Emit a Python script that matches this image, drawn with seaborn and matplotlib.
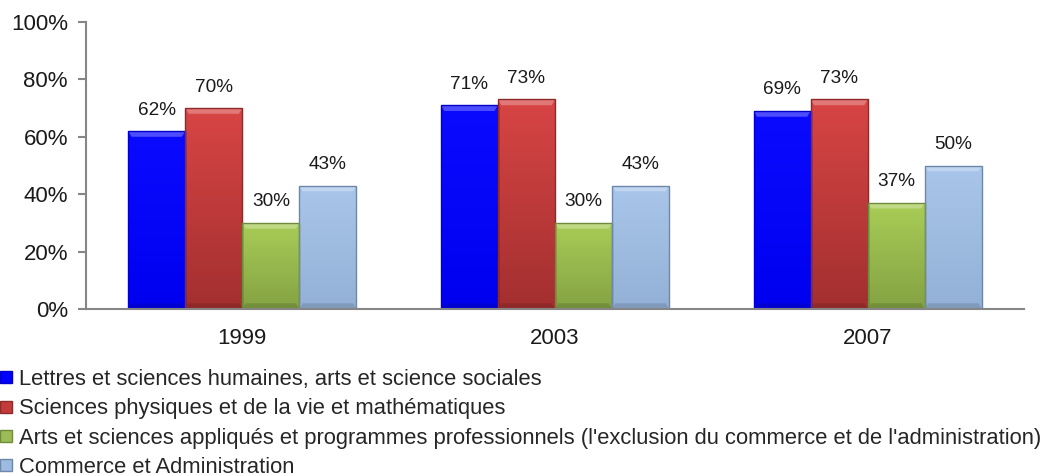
import numpy as np
import pandas as pd
import matplotlib
matplotlib.use("Agg")
import matplotlib.pyplot as plt
from matplotlib.lines import Line2D
from matplotlib.patches import Polygon
from matplotlib.colors import LinearSegmentedColormap
import seaborn as sns

years = ["1999", "2003", "2007"]
series = [
    "Lettres et sciences humaines, arts et science sociales",
    "Sciences physiques et de la vie et mathématiques",
    "Arts et sciences appliqués et programmes professionnels (l'exclusion du commerce et de l'administration)",
    "Commerce et Administration",
]
lettres = [62, 71, 69]
sciences = [70, 73, 73]
arts = [30, 30, 37]
commerce = [43, 43, 50]
colors = ["#0000FF", "#C33A3A", "#9BBB59", "#9DBBE0"]
tops = ["#0A0AFF", "#D84545", "#A9CD57", "#A9C6EA"]
bottoms = ["#0000F0", "#A32F2F", "#84A243", "#93B0D6"]
edges = ["#0000C8", "#8E2A2A", "#6F8A3A", "#6E86A8"]

rows = []
for s, vals in zip(series, [lettres, sciences, arts, commerce]):
    for y, v in zip(years, vals):
        rows.append({"year": y, "series": s, "value": v})
df = pd.DataFrame(rows)

sns.set_style("white")
plt.rcParams["font.family"] = ["Liberation Sans", "DejaVu Sans"]

fig = plt.figure(figsize=(10.51, 4.76), dpi=100)
ax = fig.add_axes([86/1051, 1-309/476, (1024-86)/1051, (309-22)/476])

sns.barplot(data=df, x="year", y="value", hue="series", order=years,
            hue_order=series, palette=colors, width=0.73, saturation=1,
            legend=False, ax=ax, errorbar=None)

ax.set_ylim(0, 100)
ax.set_xlim(-0.5, 2.5)

for i, cont in enumerate(ax.containers):
    cmap = LinearSegmentedColormap.from_list(f"g{i}", [bottoms[i], tops[i]])
    for p in cont.patches:
        x0, y0 = p.get_x(), p.get_y()
        w, h = p.get_width(), p.get_height()
        z = p.get_zorder()
        grad = np.linspace(0, 1, 256).reshape(-1, 1)
        im = ax.imshow(grad, cmap=cmap, origin="lower", aspect="auto",
                       extent=[x0, x0 + w, y0, y0 + h], zorder=z + 0.1,
                       interpolation="bilinear")
        im.set_clip_path(p)
        # bevel: light top, dark bottom
        bx, by = w * 0.06, 2.0
        ax.add_patch(Polygon([(x0, y0 + h), (x0 + w, y0 + h), (x0 + w - bx, y0 + h - by),
                              (x0 + bx, y0 + h - by)], closed=True, facecolor="white",
                             alpha=0.28, edgecolor="none", zorder=z + 0.15))
        ax.add_patch(Polygon([(x0, y0), (x0 + w, y0), (x0 + w - bx, y0 + by),
                              (x0 + bx, y0 + by)], closed=True, facecolor="black",
                             alpha=0.12, edgecolor="none", zorder=z + 0.15))
        ax.add_patch(plt.Rectangle((x0, y0), w, h, fill=False, edgecolor=edges[i],
                                   linewidth=1.0, zorder=z + 0.2))
    ax.bar_label(cont, labels=[f"{int(round(v))}%" for v in cont.datavalues],
                 padding=9, fontsize=13.7, color="#1a1a1a")

ax.set_ylim(0, 100)
ax.set_xlim(-0.5, 2.5)
ax.set_yticks(np.arange(0, 101, 20))
ax.set_yticklabels([f"{t}%" for t in range(0, 101, 20)])
ax.set_xlabel("")
ax.set_ylabel("")
for side in ["top", "right"]:
    ax.spines[side].set_visible(False)
for side in ["left", "bottom"]:
    ax.spines[side].set_color("#868686")
    ax.spines[side].set_linewidth(1.5)
    ax.spines[side].set_zorder(5)
ax.tick_params(axis="y", which="both", left=True, length=6, width=1.5,
               color="#868686", labelsize=16, pad=7, labelcolor="#1a1a1a")
ax.tick_params(axis="x", bottom=False, labelsize=16, pad=10, labelcolor="#1a1a1a")

handles = [Line2D([0], [0], marker="s", linestyle="", markersize=8,
                  markerfacecolor=c, markeredgecolor=e)
           for c, e in zip(colors, edges)]
fig.legend(handles, series, loc="upper left", bbox_to_anchor=(-0.001, 1-369/476),
           frameon=False, fontsize=15.8, handlelength=0.6, handletextpad=0.3,
           labelspacing=0.38, borderaxespad=0, borderpad=0)

fig.savefig("out.png", dpi=100)
